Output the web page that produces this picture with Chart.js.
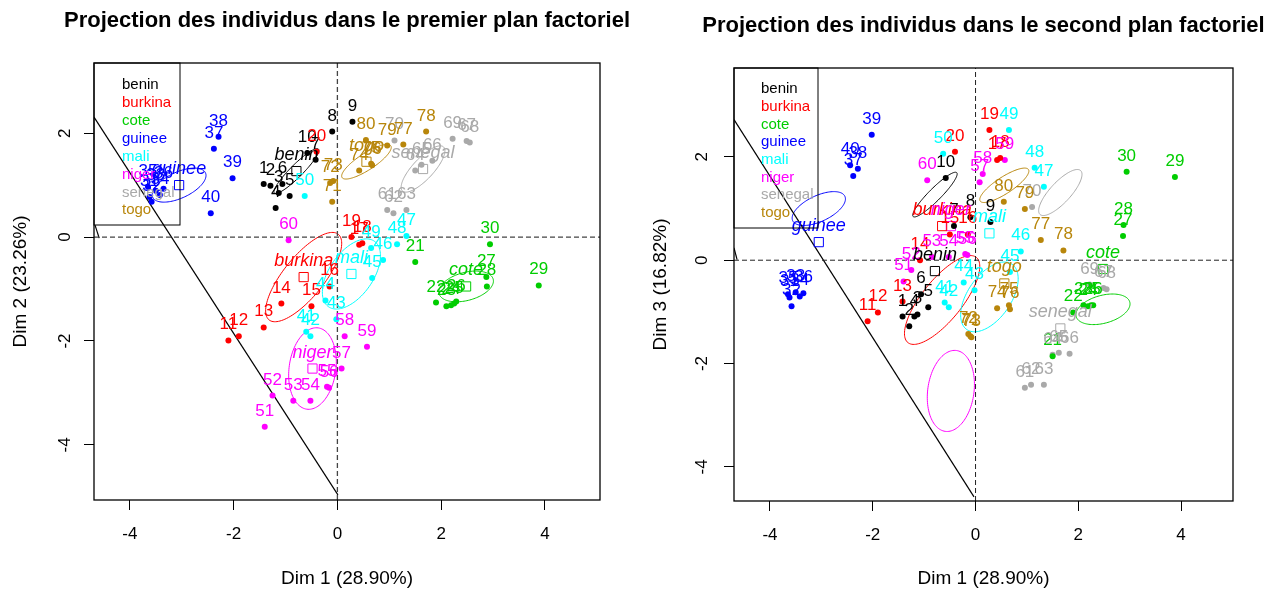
<!DOCTYPE html>
<html>
<head>
<meta charset="utf-8">
<script src="https://cdn.jsdelivr.net/npm/chart.js@4.4.1/dist/chart.umd.min.js"></script>
<style>
  html, body { margin: 0; padding: 0; background: #fff; }
  #wrap { display: flex; width: 1285px; height: 591px; }
  canvas { display: block; }
</style>
</head>
<body>
<div id="wrap">
  <canvas id="plan12" width="642" height="591"></canvas>
  <canvas id="plan13" width="643" height="591"></canvas>
</div>
<script>
const FONT = '"Liberation Sans", Arial, sans-serif';

const PAYS = ['benin', 'burkina', 'cote', 'guinee', 'mali', 'niger', 'senegal', 'togo'];
const COULEURS = ['#000000', '#FF0000', '#00CD00', '#0000FF', '#00FFFF', '#FF00FF', '#A9A9A9', '#B8860B'];

// dix individus par pays
const INDIVIDUS = [
    ['1', '2', '3', '4', '5', '6', '7', '8', '9', '10'],
    ['11', '12', '13', '14', '15', '16', '17', '18', '19', '20'],
    ['21', '22', '23', '24', '25', '26', '27', '28', '29', '30'],
    ['31', '32', '33', '34', '35', '36', '37', '38', '39', '40'],
    ['41', '42', '43', '44', '45', '46', '47', '48', '49', '50'],
    ['51', '52', '53', '54', '55', '56', '57', '58', '59', '60'],
    ['61', '62', '63', '64', '65', '66', '67', '68', '69', '70'],
    ['71', '72', '73', '74', '75', '76', '77', '78', '79', '80'],
];

const DIM1 = [
    [-1.42, -1.29, -1.13, -1.19, -0.92, -1.06, -0.42, -0.10, 0.29, -0.58],
    [-2.10, -1.90, -1.42, -1.08, -0.50, -0.15, 0.42, 0.48, 0.27, -0.40],
    [1.50, 1.90, 2.10, 2.19, 2.25, 2.29, 2.87, 2.88, 3.88, 2.94],
    [-3.62, -3.58, -3.50, -3.42, -3.65, -3.35, -2.38, -2.29, -2.02, -2.44],
    [-0.60, -0.52, -0.02, -0.23, 0.67, 0.88, 1.33, 1.15, 0.65, -0.63],
    [-1.40, -1.25, -0.85, -0.52, -0.20, -0.16, 0.08, 0.14, 0.57, -0.94],
    [0.96, 1.08, 1.33, 1.50, 1.62, 1.83, 2.49, 2.55, 2.22, 1.10],
    [-0.10, -0.14, -0.08, 0.42, 0.65, 0.67, 1.27, 1.71, 0.96, 0.55],
];
const DIM2 = [
    [1.02, 0.99, 0.85, 0.56, 0.79, 1.02, 1.49, 2.03, 2.22, 1.62],
    [-1.99, -1.91, -1.74, -1.28, -1.33, -0.95, -0.15, -0.12, 0.00, 1.64],
    [-0.48, -1.26, -1.33, -1.31, -1.28, -1.24, -0.77, -0.95, -0.93, -0.14],
    [0.77, 0.68, 0.89, 0.81, 0.97, 0.93, 1.70, 1.93, 1.13, 0.46],
    [-1.82, -1.91, -1.58, -1.22, -0.79, -0.44, 0.02, -0.14, -0.21, 0.79],
    [-3.65, -3.05, -3.15, -3.15, -2.88, -2.90, -2.53, -1.91, -2.11, -0.06],
    [0.52, 0.46, 0.52, 1.28, 1.39, 1.47, 1.85, 1.82, 1.89, 1.86],
    [0.68, 1.04, 1.08, 1.28, 1.41, 1.38, 1.78, 2.03, 1.76, 1.87],
];
const DIM3 = [
    [-1.09, -1.28, -1.05, -1.09, -0.91, -0.66, 0.66, 0.83, 0.74, 1.59],
    [-1.18, -1.01, -0.80, 0.00, 0.50, 0.50, 1.94, 1.98, 2.52, 2.10],
    [-1.86, -1.01, -0.87, -0.89, -0.87, -0.87, 0.47, 0.68, 1.61, 1.71],
    [-0.72, -0.89, -0.62, -0.70, -0.66, -0.64, 1.63, 1.77, 2.43, 1.84],
    [-0.82, -0.91, -0.58, -0.43, -0.23, 0.17, 1.42, 1.79, 2.52, 2.06],
    [-0.41, -0.19, 0.06, 0.06, 0.12, 0.10, 1.51, 1.67, 1.94, 1.55],
    [-2.47, -2.41, -2.41, -1.83, -1.79, -1.81, -0.54, -0.56, -0.47, 1.03],
    [-1.47, -1.43, -1.49, -0.93, -0.87, -0.95, 0.39, 0.19, 0.99, 1.13],
];

// barycentres des pays
const CENTRE_DIM1 = [-0.79, -0.65, 2.48, -3.05, 0.27, -0.48, 1.65, 0.56];
const CENTRE_DIM2 = [1.27, -0.77, -0.95, 1.00, -0.71, -2.53, 1.31, 1.45];
const CENTRE_DIM3 = [-0.21, 0.66, -0.17, 0.35, 0.52, 0.66, -1.32, -0.45];

// ellipses de confiance (demi-axes et angle en degrés), centrées sur CENTRE_DIM1/DIM2
const ELL_A = [0.60, 1.06, 0.54, 0.56, 0.77, 0.79, 0.58, 0.56];
const ELL_B = [0.12, 0.39, 0.27, 0.25, 0.42, 0.45, 0.20, 0.16];
const ELL_ANGLE = [45, 51, 15, 25, 55, 82, 47, 33];

const X_TICKS = [-4, -2, 0, 2, 4];
const Y_TICKS = [-4, -2, 0, 2];

// traits obliques
const TRAIT_12 = [[[-4.69, 2.31], [0.01, -4.96]], [[-4.67, 0.23], [-4.59, -0.02]]];
const TRAIT_13 = [[[-4.70, 2.72], [-0.03, -4.58]], [[-4.70, 0.24], [-4.64, 0.01]]];


const decor = {
    id: 'decor',
    beforeDatasetsDraw(chart, args, o) {
        const {ctx, chartArea: a, scales: {x, y}} = chart;
        ctx.save();
        ctx.beginPath();
        ctx.rect(a.left, a.top, a.right - a.left, a.bottom - a.top);
        ctx.clip();
        ctx.lineWidth = 1;
        PAYS.forEach((p, g) => {
            const th = ELL_ANGLE[g] * Math.PI / 180;
            ctx.strokeStyle = COULEURS[g];
            ctx.beginPath();
            for (let i = 0; i <= 120; i++) {
                const t = 2 * Math.PI * i / 120;
                const u = ELL_A[g] * Math.cos(t), v = ELL_B[g] * Math.sin(t);
                const px = x.getPixelForValue(CENTRE_DIM1[g] + u * Math.cos(th) - v * Math.sin(th));
                const py = y.getPixelForValue(CENTRE_DIM2[g] + u * Math.sin(th) + v * Math.cos(th));
                if (i) ctx.lineTo(px, py); else ctx.moveTo(px, py);
            }
            ctx.stroke();
        });
        ctx.restore();
    },
    afterDatasetsDraw(chart, args, o) {
        const {ctx, chartArea: a} = chart;
        ctx.save();
        ctx.beginPath();
        ctx.rect(a.left, a.top, a.right - a.left, a.bottom - a.top);
        ctx.clip();
        ctx.textAlign = 'center';
        ctx.textBaseline = 'alphabetic';
        chart.data.datasets.forEach((ds, i) => {
            if (ds.kind === undefined) return;
            const g = ds.groupe;
            ctx.fillStyle = COULEURS[g];
            chart.getDatasetMeta(i).data.forEach((pt, k) => {
                if (ds.kind === 'indiv') {
                    ctx.font = '17px ' + FONT;
                    ctx.fillText(INDIVIDUS[g][k], pt.x, pt.y - 11);
                } else {
                    ctx.font = 'italic 18px ' + FONT;
                    ctx.fillText(PAYS[g], pt.x, pt.y - 11);
                }
            });
        });
        ctx.restore();
    },
    afterDraw(chart, args, o) {
        const {ctx, chartArea: a, scales: {y}} = chart;
        ctx.save();
        // cadre
        ctx.strokeStyle = '#000';
        ctx.lineWidth = 1.3;
        ctx.strokeRect(a.left, a.top, a.right - a.left, a.bottom - a.top);
        // légende
        ctx.lineWidth = 1;
        ctx.strokeRect(a.left, a.top, o.legW, o.legH);
        ctx.font = '15px ' + FONT;
        ctx.textAlign = 'left';
        ctx.textBaseline = 'middle';
        PAYS.forEach((p, g) => {
            ctx.fillStyle = COULEURS[g];
            ctx.fillText(p, a.left + o.legX, a.top + o.legY0 + g * o.legStep);
        });
        // graduations de l'axe vertical, écrites parallèlement à l'axe
        ctx.fillStyle = '#000';
        ctx.font = '17px ' + FONT;
        ctx.textAlign = 'center';
        for (const v of Y_TICKS) {
            ctx.save();
            ctx.translate(o.yLabelX, y.getPixelForValue(v));
            ctx.rotate(-Math.PI / 2);
            ctx.fillText(String(v), 0, 0);
            ctx.restore();
        }
        // titre
        ctx.font = 'bold 22px ' + FONT;
        ctx.fillText(o.title, (a.left + a.right) / 2, o.titleY);
        ctx.restore();
    }
};

function lineSet(points, dash, color, width) {
    return {
        data: points.map(([x, y]) => ({x, y})),
        showLine: true, pointRadius: 0, borderColor: color, borderWidth: width,
        borderDash: dash, order: 10,
    };
}

function makeChart(id, dimY, centresY, traits, o) {
    const datasets = [];
    PAYS.forEach((p, g) => datasets.push({
        label: p, kind: 'indiv', groupe: g,
        data: DIM1[g].map((v, k) => ({x: v, y: dimY[g][k]})),
        backgroundColor: COULEURS[g], borderColor: COULEURS[g], borderWidth: 0,
        pointRadius: 3, order: 1,
    }));
    PAYS.forEach((p, g) => datasets.push({
        label: p, kind: 'centre', groupe: g,
        data: [{x: CENTRE_DIM1[g], y: centresY[g]}],
        pointStyle: 'rect', pointRadius: 6.5, borderColor: COULEURS[g], borderWidth: 1,
        backgroundColor: 'rgba(0,0,0,0)', order: 1,
    }));
    datasets.push(lineSet([[o.xmin, 0], [o.xmax, 0]], [5, 3], o.dashColor, o.dashWidth));
    datasets.push(lineSet([[0, o.ymin], [0, o.ymax]], [5, 3], o.dashColor, o.dashWidth));
    for (const t of traits) datasets.push(lineSet(t, [], '#000', 1.2));

    const axisCommon = {
        type: 'linear',
        grid: {drawOnChartArea: false, drawTicks: true, tickLength: 10, color: '#000', lineWidth: 1},
        border: {display: false},
    };

    return new Chart(id, {
        type: 'scatter',
        data: {datasets},
        options: {
            responsive: false,
            animation: false,
            devicePixelRatio: 1,
            layout: {autoPadding: false, padding: o.padding},
            plugins: {
                legend: {display: false},
                tooltip: {enabled: false},
                decor: o,
            },
            scales: {
                x: {
                    ...axisCommon,
                    min: o.xmin, max: o.xmax,
                    afterBuildTicks: (s) => { s.ticks = X_TICKS.map(v => ({value: v})); },
                    afterFit: (s) => { s.height = o.xHeight; },
                    ticks: {color: '#000', font: {size: 17}, padding: 14, maxRotation: 0, autoSkip: false},
                    title: {display: true, text: 'Dim 1 (28.90%)', color: '#000', font: {size: 19},
                            padding: {top: 0, bottom: 1}},
                },
                y: {
                    ...axisCommon,
                    min: o.ymin, max: o.ymax,
                    afterBuildTicks: (s) => { s.ticks = Y_TICKS.map(v => ({value: v})); },
                    afterFit: (s) => { s.width = o.yWidth; },
                    ticks: {color: 'rgba(0,0,0,0)', font: {size: 17}, autoSkip: false},
                    title: {display: true, text: o.yTitle, color: '#000', font: {size: 19},
                            padding: {top: o.yTitlePad, bottom: 0}},
                },
            },
        },
        plugins: [decor],
    });
}

window.addEventListener('DOMContentLoaded', () => {
    Chart.defaults.font.family = FONT;

    makeChart('plan12', DIM2, CENTRE_DIM2, TRAIT_12, {
        title: 'Projection des individus dans le premier plan factoriel', titleY: 21,
        yTitle: 'Dim 2 (23.26%)', yTitlePad: 9,
        xmin: -4.69, xmax: 5.06, ymin: -5.06, ymax: 3.35,
        padding: {left: 0, right: 42, top: 63, bottom: 0}, yWidth: 94, xHeight: 91,
        yLabelX: 65, dashColor: '#444', dashWidth: 1.3,
        legW: 86, legH: 162, legX: 28, legY0: 22, legStep: 17.9,
    });

    makeChart('plan13', DIM3, CENTRE_DIM3, TRAIT_13, {
        title: 'Projection des individus dans le second plan factoriel', titleY: 26,
        yTitle: 'Dim 3 (16.82%)', yTitlePad: 7,
        xmin: -4.70, xmax: 5.01, ymin: -4.66, ymax: 3.72,
        padding: {left: 0, right: 52, top: 68, bottom: 0}, yWidth: 92, xHeight: 90,
        yLabelX: 60, dashColor: '#222', dashWidth: 1,
        legW: 84, legH: 160, legX: 27, legY0: 21, legStep: 17.7,
    });
});
</script>
</body>
</html>
